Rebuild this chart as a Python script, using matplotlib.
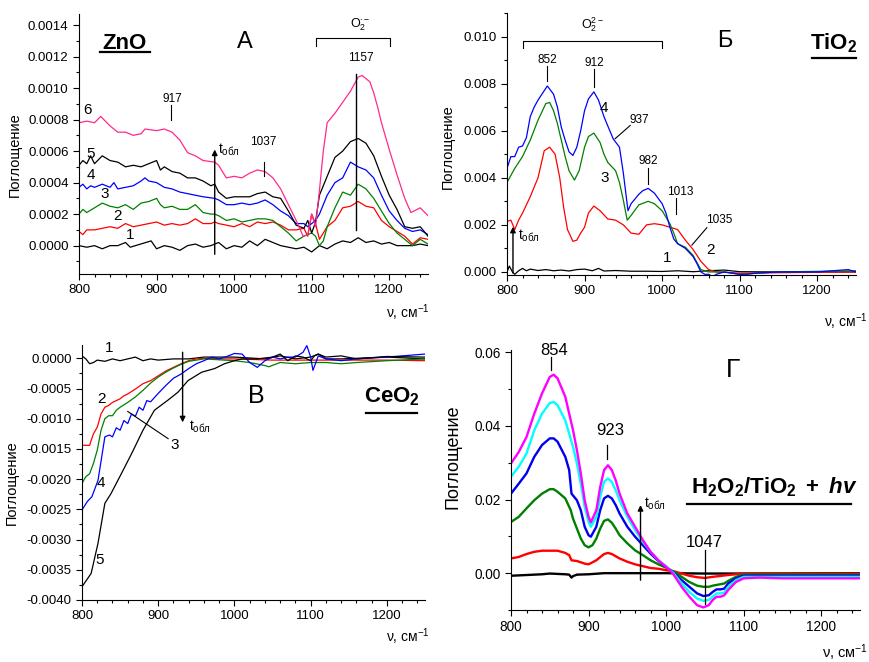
import numpy as np
import matplotlib
matplotlib.use("Agg")
import matplotlib.pyplot as plt
from matplotlib.ticker import MultipleLocator, FormatStrFormatter

plt.rcParams['font.family'] = ['Liberation Sans', 'DejaVu Sans']
plt.rcParams['mathtext.fontset'] = 'custom'
plt.rcParams['mathtext.rm'] = 'Liberation Sans'
plt.rcParams['mathtext.it'] = 'Liberation Sans:italic'
plt.rcParams['mathtext.bf'] = 'Liberation Sans:bold'
plt.rcParams['mathtext.bfit'] = 'Liberation Sans:bold:italic'
plt.rcParams['axes.unicode_minus'] = False

# ---------------- Panel A: ZnO (values in 1e-4) ----------------
A_SCALE = 1e-4
zno6_x = [800,810,820,828,840,850,860,870,880,885,900,910,920,930,940,950,960,975,980,990,1000,1010,1020,1030,1040,1050,1060,1070,1080,1089,1095,1100,1105,1110,1115,1120,1130,1140,1150,1160,1165,1170,1175,1180,1185,1190,1200,1210,1220,1228,1240,1250]
zno6_y = [7.8,7.9,7.8,8.2,7.6,7.2,7.2,7.0,7.1,7.4,7.3,7.4,7.2,6.7,5.9,5.7,5.4,5.3,5.1,4.3,4.4,4.3,4.6,4.8,4.7,4.3,3.6,2.6,1.6,0.6,0.7,2.0,1.2,3.5,6.0,7.8,8.4,9.1,9.8,10.7,10.8,10.6,10.4,9.7,8.8,7.8,6.1,4.5,3.0,2.1,2.4,1.9]
zno5_x = [800,805,810,815,820,830,840,850,860,870,880,890,900,905,910,920,930,940,950,960,970,975,980,990,1000,1010,1020,1030,1040,1050,1060,1070,1080,1090,1095,1100,1105,1110,1120,1130,1140,1150,1160,1170,1180,1190,1200,1210,1220,1230,1240,1250]
zno5_y = [5.1,5.4,5.2,5.7,5.2,5.7,5.4,5.3,5.0,5.1,5.0,5.2,5.4,4.8,5.0,4.7,4.6,4.3,4.3,4.1,3.8,3.9,3.4,3.0,3.1,3.1,3.1,3.3,3.4,3.1,3.0,2.2,1.3,1.1,1.6,0.8,1.5,3.2,4.4,5.6,6.0,6.6,6.8,6.5,5.7,4.4,3.2,2.3,1.2,1.1,1.2,0.6]
zno4_x = [800,805,810,815,820,830,840,845,850,860,870,880,885,890,900,910,920,930,940,950,960,975,980,990,1000,1010,1020,1030,1040,1050,1060,1070,1080,1090,1095,1100,1105,1110,1120,1130,1140,1150,1160,1170,1180,1190,1200,1210,1220,1230,1240,1250]
zno4_y = [3.7,3.9,3.6,3.8,3.7,3.9,3.7,4.0,3.6,3.7,3.8,4.1,4.3,4.1,4.0,3.7,3.6,3.4,3.3,3.2,3.1,3.0,2.9,2.6,2.6,2.7,2.6,2.7,2.9,2.6,2.2,1.9,1.4,1.4,1.2,1.4,1.6,2.0,3.2,4.0,4.3,5.3,5.0,4.8,4.3,3.2,2.2,1.6,1.1,0.9,1.0,0.7]
zno3_x = [800,805,810,820,830,840,850,860,870,880,890,900,905,910,920,930,940,950,960,970,975,980,990,1000,1010,1020,1030,1040,1050,1060,1070,1080,1090,1100,1105,1110,1115,1120,1130,1140,1150,1160,1170,1180,1190,1200,1210,1220,1230,1240,1250]
zno3_y = [2.0,2.3,2.1,2.4,2.7,2.5,2.4,2.6,2.3,2.7,2.8,3.0,2.6,2.4,2.5,2.3,2.3,2.6,2.1,2.0,2.0,1.9,1.6,1.7,1.5,1.6,1.7,1.7,1.6,1.2,0.8,0.3,0.6,0.8,0.6,0.0,0.3,1.2,2.4,3.4,3.2,3.9,3.6,3.0,2.2,1.4,0.8,0.4,0.0,0.4,0.1]
zno2_x = [800,805,810,820,830,840,850,860,870,880,890,900,910,920,930,940,950,960,970,975,980,990,1000,1010,1020,1030,1040,1050,1060,1070,1080,1090,1095,1100,1105,1110,1120,1130,1140,1150,1160,1170,1180,1190,1200,1210,1220,1230,1240,1250]
zno2_y = [0.9,0.7,1.0,1.0,1.1,1.2,1.1,1.4,1.2,1.3,1.4,1.5,1.3,1.4,1.3,1.4,1.7,1.4,1.4,1.5,1.4,1.3,1.2,1.4,1.2,1.5,1.4,1.5,1.3,1.0,1.0,1.1,0.6,2.0,1.4,0.4,1.2,1.6,2.4,2.5,2.8,2.5,2.4,1.6,1.2,0.9,0.6,0.1,0.5,0.4]
zno1_x = [800,810,820,830,840,850,860,866,893,900,910,920,930,940,950,960,970,980,990,1000,1010,1020,1030,1040,1050,1060,1070,1080,1090,1100,1110,1120,1130,1140,1150,1160,1170,1180,1190,1200,1210,1220,1230,1240,1250]
zno1_y = [0.0,-0.1,0.0,-0.2,0.0,0.0,0.2,-0.1,0.3,-0.2,0.0,-0.1,-0.3,0.0,0.1,-0.1,0.0,0.2,-0.2,0.0,-0.1,0.3,0.0,0.4,0.2,0.0,-0.1,-0.2,-0.1,-0.4,0.0,-0.2,0.1,0.3,0.2,0.5,0.2,0.3,0.1,0.2,0.0,0.0,0.0,0.1,0.0]

# ---------------- Panel B: TiO2 (values in 1e-3) ----------------
B_SCALE = 1e-3
tio4_x = [800,805,810,815,820,825,830,835,840,845,852,860,865,870,875,880,885,890,895,900,905,912,918,925,930,937,945,950,956,960,965,970,975,982,990,1000,1005,1010,1015,1020,1030,1040,1045,1050,1055,1060,1065,1070,1080,1090,1100,1110,1120,1150,1200,1240,1250]
tio4_y = [4.4,4.9,4.9,5.3,5.35,5.7,6.6,7.0,7.3,7.55,7.9,7.55,7.0,6.15,5.6,5.1,4.95,5.3,6.0,6.85,7.35,7.65,7.3,6.6,6.2,5.65,5.3,4.2,2.6,2.9,3.1,3.3,3.45,3.55,3.35,2.9,2.5,1.9,1.4,1.2,1.0,0.65,0.35,0.0,-0.1,-0.1,-0.2,-0.1,0.0,-0.05,-0.1,-0.1,-0.05,0.0,0.0,0.1,0.0]
tio3_x = [800,810,820,830,840,850,855,860,865,870,875,880,887,893,900,905,912,920,925,930,940,945,950,955,960,970,982,990,1000,1010,1015,1020,1030,1040,1050,1060,1080,1100,1150,1250]
tio3_y = [3.8,4.4,4.9,5.6,6.45,7.15,7.2,6.85,6.3,5.6,4.9,4.3,3.9,4.3,5.3,5.75,5.9,5.5,5.0,4.65,4.3,3.8,3.05,2.2,2.4,2.85,3.0,2.9,2.6,2.05,1.65,1.2,1.05,0.7,0.1,0.0,0.0,-0.1,0.0,0.05]
tio2_x = [800,805,810,815,820,830,840,848,855,862,868,873,878,885,890,895,900,905,912,920,930,940,950,960,970,980,990,1000,1010,1020,1030,1040,1050,1060,1070,1100,1250]
tio2_y = [2.15,2.2,1.8,2.2,2.5,3.2,4.0,5.15,5.3,5.0,4.0,2.75,1.8,1.3,1.35,1.65,1.9,2.5,2.8,2.6,2.25,2.2,2.0,1.65,1.6,2.0,2.05,2.0,1.9,1.8,1.35,0.95,0.45,0.1,0.0,-0.05,0.0]
tio1_x = [800,803,807,810,815,820,825,830,840,850,860,870,880,890,900,910,918,925,940,960,980,1000,1020,1040,1060,1080,1100,1150,1200,1250]
tio1_y = [0.0,0.25,0.0,-0.1,0.05,0.15,0.05,0.12,0.06,0.1,0.05,0.08,0.04,0.1,0.12,0.05,0.15,0.04,0.06,0.03,0.03,0.02,0.05,0.01,0.05,0.08,0.01,0.0,0.0,0.0]

# ---------------- Panel C: CeO2 (values in 1e-4) ----------------
C_SCALE = 1e-4
ceo2_x = [800,810,812,815,820,825,830,835,840,850,855,860,870,880,890,900,910,920,930,940,950,960,980,1000,1050,1100,1150,1200,1250]
ceo2_y = [-14.4,-14.4,-13.6,-12.5,-11.4,-9.2,-8.1,-7.8,-7.3,-6.7,-6.2,-5.9,-5.1,-4.2,-3.7,-2.9,-2.1,-1.5,-0.9,-0.4,-0.1,0.0,-0.1,-0.1,-0.3,-0.3,-0.3,-0.3,-0.4]
ceo3_x = [800,805,810,815,820,825,830,835,840,845,850,860,870,880,890,900,910,920,930,940,950,960,1000,1020,1040,1045,1060,1080,1100,1120,1140,1160,1200,1250]
ceo3_y = [-20.7,-19.6,-19.1,-17.4,-15.2,-11.9,-10.0,-9.5,-9.5,-8.6,-8.1,-7.3,-6.4,-5.3,-4.1,-3.1,-2.3,-1.6,-1.0,-0.5,-0.3,-0.1,-0.4,-0.7,-1.2,-1.4,-0.7,-0.9,-0.7,-0.7,-0.9,-0.7,-0.4,-0.1]
ceo4_x = [800,807,813,821,830,836,840,845,850,855,860,865,870,875,880,885,890,900,910,920,930,940,950,960,970,980,990,1000,1010,1020,1030,1040,1050,1060,1070,1080,1090,1095,1100,1103,1110,1120,1140,1160,1200,1250]
ceo4_y = [-25.1,-23.7,-22.9,-20.2,-13.0,-12.7,-13.0,-11.5,-11.9,-10.3,-10.8,-9.2,-9.6,-8.1,-8.6,-7.0,-7.2,-5.8,-4.5,-3.3,-2.6,-1.7,-0.9,-0.4,0.2,-0.1,0.3,0.8,0.7,-0.7,-1.5,-0.4,0.2,-0.1,0.2,0.2,1.0,2.1,0.2,-2.0,0.4,-0.1,-0.4,-0.1,0.2,0.7]
ceo5_x = [800,812,821,830,838,852,865,880,895,913,926,939,957,974,987,1000,1010,1030,1050,1060,1070,1080,1090,1100,1105,1110,1120,1140,1160,1200,1250]
ceo5_y = [-37.8,-35.6,-30.6,-24.0,-22.4,-19.0,-15.8,-11.9,-8.6,-6.9,-5.6,-3.7,-2.3,-1.7,-0.9,-0.4,-0.1,-0.1,0.2,0.7,-0.4,0.4,0.2,-0.4,0.4,0.7,0.2,0.4,-0.1,0.3,0.2]
ceo1_x = [800,805,810,815,820,830,840,850,860,870,880,890,900,920,940,960,1000,1040,1060,1080,1100,1110,1120,1140,1200,1250]
ceo1_y = [0.4,-0.1,-0.9,-0.7,-0.3,-0.5,-0.1,-0.4,-0.1,0.2,-0.4,-0.1,-0.3,-0.1,-0.1,0.2,0.2,-0.1,0.4,-0.1,0.2,0.7,-0.1,-0.1,0.2,-0.1]

# ---------------- Panel D: H2O2/TiO2 + hv (values in 1e-3) ----------------
D_SCALE = 1e-3
h2o2_mag_x = [800,810,820,830,840,850,855,860,870,880,885,890,895,900,903,910,915,920,925,930,935,940,950,960,970,980,990,1000,1005,1010,1020,1030,1040,1048,1055,1060,1065,1070,1075,1080,1090,1100,1120,1150,1200,1250]
h2o2_mag_y = [29.8,32.9,37.0,43.3,48.8,53.3,53.9,52.9,47.9,38.8,33.4,27.1,19.8,15.3,13.8,17.1,23.4,28.0,29.3,28.0,25.2,21.6,16.2,12.6,9.0,5.8,3.5,1.7,0.8,-0.5,-3.7,-6.4,-8.7,-9.3,-8.7,-7.3,-6.4,-6.4,-6.0,-4.6,-2.4,-1.4,-1.2,-1.4,-1.4,-1.4]
h2o2_cyan_x = [800,810,820,830,840,850,855,860,870,880,885,890,895,900,903,910,915,920,925,930,935,940,950,960,970,980,990,1000,1010,1020,1030,1040,1048,1055,1060,1065,1070,1075,1080,1090,1100,1150,1250]
h2o2_cyan_y = [26.2,28.9,32.5,38.8,43.3,46.2,46.5,45.6,41.5,34.3,29.8,24.3,18.0,13.9,12.6,15.3,20.7,24.8,25.7,24.8,22.5,19.8,15.3,11.7,8.5,5.8,3.5,1.9,-0.1,-2.8,-5.1,-6.9,-7.5,-7.3,-6.4,-5.5,-5.5,-5.3,-3.7,-1.9,-1.0,-1.0,-1.0]
h2o2_blue_x = [800,810,820,830,840,850,855,860,870,875,878,885,890,895,900,903,910,915,920,925,930,935,940,950,960,970,980,990,1000,1010,1020,1030,1040,1048,1055,1060,1065,1070,1075,1080,1090,1100,1150,1250]
h2o2_blue_y = [21.6,24.3,27.1,31.6,34.8,36.6,36.6,35.7,31.6,28.0,21.6,19.8,17.1,12.6,10.3,9.9,12.6,17.1,20.3,21.0,20.3,18.5,16.2,12.6,9.9,7.6,5.3,3.3,1.7,0.1,-1.9,-3.7,-5.5,-6.2,-6.0,-5.1,-4.4,-4.4,-4.2,-2.8,-1.4,-0.7,-0.7,-0.7]
h2o2_green_x = [800,810,820,830,840,850,855,860,870,877,880,885,890,895,900,905,910,915,920,925,930,935,940,950,960,970,980,990,1000,1010,1020,1030,1040,1048,1055,1060,1070,1075,1080,1090,1100,1150,1250]
h2o2_green_y = [13.9,15.3,17.6,19.8,21.6,22.8,22.8,22.1,20.3,17.1,14.8,12.1,9.4,7.6,7.0,7.6,9.4,12.1,14.2,14.6,13.7,12.1,10.3,8.1,6.2,4.9,3.5,2.4,1.5,0.4,-1.0,-2.4,-3.4,-3.7,-3.7,-3.4,-3.0,-2.8,-2.1,-1.0,-0.4,-0.4,-0.4]
h2o2_red_x = [800,810,820,830,840,850,860,870,875,878,885,895,900,910,920,925,930,940,950,960,970,980,990,1000,1010,1020,1030,1040,1050,1060,1080,1100,1150,1250]
h2o2_red_y = [4.0,4.4,5.2,5.8,6.1,6.1,6.1,5.5,4.9,3.5,3.3,2.6,2.4,3.5,5.2,5.5,5.2,4.0,3.1,2.4,1.9,1.4,1.2,0.8,0.5,-0.1,-0.7,-1.1,-1.3,-1.0,-0.5,-0.1,-0.1,-0.1]
h2o2_black_x = [800,820,840,850,860,870,875,878,880,885,900,920,950,1000,1050,1100,1250]
h2o2_black_y = [-0.7,-0.5,-0.3,-0.1,-0.2,-0.3,-0.4,-1.2,-0.8,-0.4,-0.3,0.0,0.0,0.0,-0.1,-0.1,0.0]

W, H = 869, 662
fig = plt.figure(figsize=(W / 100, H / 100), dpi=100)


def make_axes(l, r, t, b):
    ax = fig.add_axes([l / W, 1 - b / H, (r - l) / W, (b - t) / H])
    for s in ('top', 'right'):
        ax.spines[s].set_visible(False)
    ax.tick_params(which='major', direction='out', length=4, width=0.8)
    ax.tick_params(which='minor', direction='out', length=2.5, width=0.8)
    ax.set_xlim(800, 1250)
    ax.xaxis.set_major_locator(MultipleLocator(100))
    ax.xaxis.set_minor_locator(MultipleLocator(20))
    return ax


def xlabel(ax, xr, yb, fs=10):
    ax.text(xr, yb, r'ν, см$^{-1}$', transform=ax.transAxes, ha='right', va='center', fontsize=fs)


def arr(v, s):
    return np.array(v) * s


def underline(ax, x0, x1, y):
    ax.plot([x0, x1], [y, y], transform=ax.transAxes, color='k', lw=1.6, clip_on=False)


LW = 0.9
pink = '#ff2a8a'
arrow_kw = dict(arrowstyle='-|>', color='k', lw=1.0, mutation_scale=8, shrinkA=0, shrinkB=0)

# ---------- A ----------
axA = make_axes(79, 428, 14, 274)
axA.set_ylim(-0.00018, 0.00147)
axA.yaxis.set_major_locator(MultipleLocator(0.0002))
axA.yaxis.set_minor_locator(MultipleLocator(0.0001))
axA.yaxis.set_major_formatter(FormatStrFormatter('%.4f'))
axA.tick_params(labelsize=9.5)
for xs, ys, c in [(zno1_x, zno1_y, 'k'), (zno2_x, zno2_y, 'red'), (zno3_x, zno3_y, 'green'),
                  (zno4_x, zno4_y, 'blue'), (zno5_x, zno5_y, 'k'), (zno6_x, zno6_y, pink)]:
    axA.plot(xs, arr(ys, A_SCALE), color=c, lw=LW)
axA.set_ylabel('Поглощение', fontsize=10.5)
axA.yaxis.set_label_coords(-0.163, 0.46)
xlabel(axA, 1.005, -0.15)
axA.text(859, 0.00128, 'ZnO', fontsize=16, fontweight='bold', ha='center', va='center')
underline(axA, 0.06, 0.204, 0.852)
axA.text(1014, 0.00129, 'А', fontsize=17, ha='center', va='center')
axA.plot([1106, 1106, 1201.5, 1201.5], [0.00127, 0.00132, 0.00132, 0.00127], color='k', lw=0.8)
axA.text(1162, 0.00140, r'O$_2^{\bullet-}$', fontsize=9, ha='center', va='center')
axA.text(1164, 0.00119, '1157', fontsize=8.5, ha='center', va='center')
axA.plot([1157.5, 1157.5], [0.00109, 0.00010], color='k', lw=1.0)
axA.text(920, 0.00093, '917', fontsize=8.5, ha='center', va='center')
axA.plot([919, 919], [0.00089, 0.00080], color='k', lw=0.8)
axA.text(1038, 0.00066, '1037', fontsize=8.5, ha='center', va='center')
axA.plot([1039, 1039], [0.00053, 0.00044], color='k', lw=0.8)
axA.annotate('', xy=(975, 0.00061), xytext=(975, -0.000055), arrowprops=arrow_kw)
axA.text(979, 0.00061, r't$_{\mathrm{обл}}$', fontsize=10, ha='left', va='center')
for lab, x, y in [('6', 811, 0.00086), ('5', 815, 0.00058), ('4', 815, 0.00045),
                  ('3', 833.5, 0.00033), ('2', 849, 0.00019), ('1', 866, 0.00007)]:
    axA.text(x, y, lab, fontsize=11, ha='center', va='center')

# ---------- B ----------
axB = make_axes(507, 856, 13, 275)
axB.set_ylim(-0.00013, 0.011)
axB.yaxis.set_major_locator(MultipleLocator(0.002))
axB.yaxis.set_minor_locator(MultipleLocator(0.001))
axB.yaxis.set_major_formatter(FormatStrFormatter('%.3f'))
axB.tick_params(labelsize=9.5)
for xs, ys, c in [(tio1_x, tio1_y, 'k'), (tio2_x, tio2_y, 'red'), (tio3_x, tio3_y, 'green'),
                  (tio4_x, tio4_y, 'blue')]:
    axB.plot(xs, arr(ys, B_SCALE), color=c, lw=LW)
axB.set_ylabel('Поглощение', fontsize=10.5)
axB.yaxis.set_label_coords(-0.149, 0.49)
xlabel(axB, 1.034, -0.18)
axB.plot([820, 820, 1000, 1000], [0.00953, 0.0098, 0.0098, 0.00953], color='k', lw=0.8)
axB.text(910, 0.0105, r'O$_2^{2-}$', fontsize=9, ha='center', va='center')
axB.text(852, 0.0090, '852', fontsize=8.5, ha='center', va='center')
axB.plot([852, 852], [0.00876, 0.00812], color='k', lw=0.8)
axB.text(912, 0.00887, '912', fontsize=8.5, ha='center', va='center')
axB.plot([912, 912], [0.00862, 0.00787], color='k', lw=0.8)
axB.text(925, 0.00695, '4', fontsize=11, ha='center', va='center')
axB.text(971, 0.00646, '937', fontsize=8.5, ha='center', va='center')
axB.plot([939.4, 958.8], [0.00566, 0.00622], color='k', lw=0.8)
axB.text(926.5, 0.0040, '3', fontsize=11, ha='center', va='center')
axB.text(981.6, 0.0047, '982', fontsize=8.5, ha='center', va='center')
axB.plot([981.6, 981.6], [0.00441, 0.00375], color='k', lw=0.8)
axB.text(1023, 0.0034, '1013', fontsize=8.5, ha='center', va='center')
axB.plot([1018, 1018], [0.00312, 0.00248], color='k', lw=0.8)
axB.text(1074, 0.0022, '1035', fontsize=8.5, ha='center', va='center')
axB.plot([1038.4, 1057.7], [0.00114, 0.00188], color='k', lw=0.8)
axB.text(1063, 0.00093, '2', fontsize=11, ha='center', va='center')
axB.text(1007, 0.00058, '1', fontsize=11, ha='center', va='center')
axB.annotate('', xy=(807.7, 0.00192), xytext=(807.7, -0.00005), arrowprops=arrow_kw)
axB.text(814, 0.00155, r't$_{\mathrm{обл}}$', fontsize=10, ha='left', va='center')
axB.text(1081, 0.0098, 'Б', fontsize=17, ha='center', va='center')
axB.text(1221, 0.0097, r'$\mathbf{TiO_2}$', fontsize=16, ha='center', va='center')
underline(axB, 0.873, 1.0, 0.828)

# ---------- C ----------
axC = make_axes(82, 425, 345, 600)
axC.set_ylim(-0.0040, 0.00022)
axC.yaxis.set_major_locator(MultipleLocator(0.0005))
axC.yaxis.set_minor_locator(MultipleLocator(0.00025))
axC.yaxis.set_major_formatter(FormatStrFormatter('%.4f'))
axC.tick_params(labelsize=9.5)
for xs, ys, c in [(ceo1_x, ceo1_y, 'k'), (ceo2_x, ceo2_y, 'red'), (ceo3_x, ceo3_y, 'green'),
                  (ceo4_x, ceo4_y, 'blue'), (ceo5_x, ceo5_y, 'k')]:
    axC.plot(xs, arr(ys, C_SCALE), color=c, lw=LW)
axC.set_ylabel('Поглощение', fontsize=10.5)
axC.yaxis.set_label_coords(-0.184, 0.46)
xlabel(axC, 1.015, -0.145)
for lab, x, y in [('1', 836, 0.00017), ('2', 825, -0.00067), ('3', 922, -0.00144),
                  ('4', 825, -0.00207), ('5', 823, -0.00334)]:
    axC.text(x, y, lab, fontsize=11, ha='center', va='center')
axC.plot([860, 913], [-0.00088, -0.00133], color='k', lw=0.8)
axC.annotate('', xy=(932, -0.00106), xytext=(932, 0.0001), arrowprops=arrow_kw)
axC.text(941, -0.00114, r't$_{\mathrm{обл}}$', fontsize=10, ha='left', va='center')
axC.text(1029, -0.00062, 'В', fontsize=18, ha='center', va='center')
axC.text(1207, -0.00064, r'$\mathbf{CeO_2}$', fontsize=16, ha='center', va='center')
underline(axC, 0.828, 0.977, 0.733)

# ---------- D ----------
axD = make_axes(511, 860, 350, 610)
axD.set_ylim(-0.010, 0.0606)
axD.yaxis.set_major_locator(MultipleLocator(0.02))
axD.yaxis.set_minor_locator(MultipleLocator(0.01))
axD.yaxis.set_major_formatter(FormatStrFormatter('%.2f'))
axD.tick_params(labelsize=9.8)
LW2 = 1.7
for xs, ys, c in [(h2o2_black_x, h2o2_black_y, 'k'), (h2o2_red_x, h2o2_red_y, 'red'),
                  (h2o2_green_x, h2o2_green_y, 'green'), (h2o2_blue_x, h2o2_blue_y, '#0000ee'),
                  (h2o2_cyan_x, h2o2_cyan_y, '#00ffff'), (h2o2_mag_x, h2o2_mag_y, '#ff00ff')]:
    axD.plot(xs, arr(ys, D_SCALE), color=c, lw=LW2)
axD.set_ylabel('Поглощение', fontsize=13)
axD.yaxis.set_label_coords(-0.143, 0.59)
xlabel(axD, 1.023, -0.165, fs=10.5)
axD.text(855, 0.0605, '854', fontsize=12, ha='center', va='center')
axD.plot([851, 851], [0.0587, 0.0553], color='k', lw=0.9)
axD.text(928.6, 0.0388, '923', fontsize=12, ha='center', va='center')
axD.plot([923.5, 923.5], [0.0348, 0.0311], color='k', lw=0.9)
axD.text(1048.7, 0.0083, '1047', fontsize=12, ha='center', va='center')
axD.plot([1050, 1050], [0.0062, -0.0084], color='k', lw=0.9)
axD.annotate('', xy=(967, 0.0185), xytext=(967, -0.0019), arrowprops=arrow_kw)
axD.text(971, 0.0189, r't$_{\mathrm{обл}}$', fontsize=10, ha='left', va='center')
axD.text(1086.6, 0.0551, 'Г', fontsize=19, ha='center', va='center')
axD.text(1139, 0.0234, r'$\mathbf{H_2O_2/TiO_2\ +\ }\mathbfit{hv}$', fontsize=16, ha='center', va='center')
underline(axD, 0.503, 0.974, 0.408)

fig.savefig('out.png', dpi=100)
